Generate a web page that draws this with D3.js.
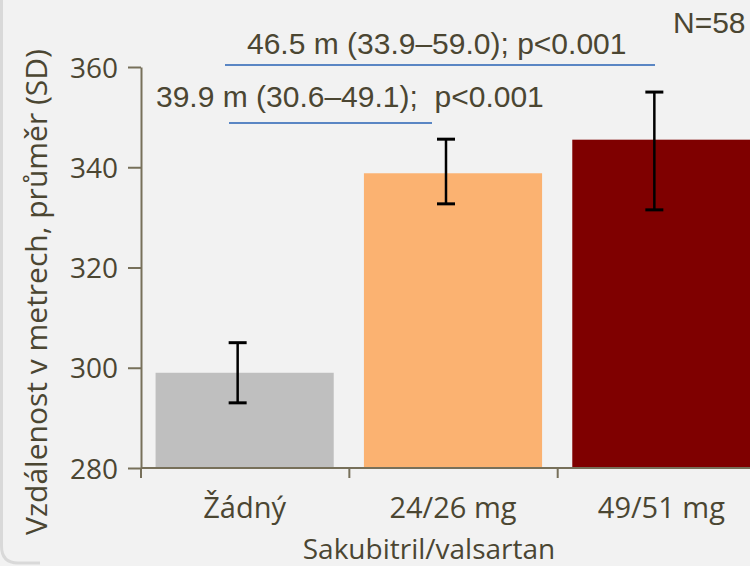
<!DOCTYPE html>
<html><head><meta charset="utf-8">
<script src="https://cdn.jsdelivr.net/npm/d3@7"></script>
<style>html,body{margin:0;padding:0;background:#f2f2f2;}svg{display:block;}</style>
</head><body>
<script>
const categories = ["Žádný", "24/26 mg", "49/51 mg"];
const means = [299.0, 338.8, 345.5];
const errLower = [293.0, 332.7, 331.5];
const errUpper = [305.0, 345.6, 355.0];
const barColors = ["#bfbfbf", "#fbb271", "#7f0000"];
const yTicks = [280, 300, 320, 340, 360];
const yLabel = "Vzdálenost v metrech, průměr (SD)";
const xLabel = "Sakubitril/valsartan";
const comparisons = [
  {text: "46.5 m (33.9–59.0); p<0.001", from: 0, to: 2},
  {text: "39.9 m (30.6–49.1);  p<0.001", from: 0, to: 1}
];
const nText = "N=58";

const W = 750, H = 566;
const svg = d3.select("body").append("svg").attr("width", W).attr("height", H);
svg.append("rect").attr("width", W).attr("height", H).attr("fill", "#f2f2f2");
// frame corner (bottom-left)
svg.append("path")
  .attr("d", "M1.5,-5 L1.5,546 Q1.5,563 18,563 L40,563")
  .attr("fill", "none").attr("stroke", "#d9d9d9").attr("stroke-width", 3);

const x = d3.scaleBand().domain(categories).range([141, 765]).paddingInner(0.145).paddingOuter(0.07);
const y = d3.scaleLinear().domain([280, 360]).range([468, 67]);

const textCol = "#4b4632";
const axisCol = "#77705a";
const sans = "Open Sans, Noto Sans, sans-serif";

// bars
svg.selectAll("rect.bar").data(categories).join("rect")
  .attr("class", "bar")
  .attr("x", d => x(d))
  .attr("width", x.bandwidth())
  .attr("y", (d, i) => y(means[i]))
  .attr("height", (d, i) => y(280) - y(means[i]))
  .attr("fill", (d, i) => barColors[i]);

// error bars
const ex = d => x(d) + x.bandwidth() / 2 - 7;
const eg = svg.append("g").attr("stroke", "#000").attr("stroke-width", 2.5);
categories.forEach((c, i) => {
  eg.append("line").attr("x1", ex(c)).attr("x2", ex(c)).attr("y1", y(errUpper[i])).attr("y2", y(errLower[i]));
  [errUpper[i], errLower[i]].forEach(v => {
    eg.append("line").attr("x1", ex(c) - 9).attr("x2", ex(c) + 9).attr("y1", y(v)).attr("y2", y(v)).attr("stroke-width", 3);
  });
});

// y axis
const yAxis = svg.append("g").attr("transform", "translate(141,0)")
  .call(d3.axisLeft(y).tickValues(yTicks).tickSize(13).tickPadding(10).tickSizeOuter(0));
yAxis.select(".domain").attr("stroke", axisCol).attr("stroke-width", 2);
yAxis.selectAll(".tick line").attr("stroke", axisCol).attr("stroke-width", 2);
yAxis.selectAll(".tick text").attr("fill", textCol).attr("font-family", sans).attr("font-size", 28).attr("dy", "0.36em");

// x axis
const xAxis = svg.append("g").attr("transform", "translate(0,468)")
  .call(d3.axisBottom(x).tickSize(0).tickPadding(29).tickSizeOuter(0));
xAxis.select(".domain").attr("stroke", axisCol).attr("stroke-width", 2).attr("d", "M141,0H750");
xAxis.selectAll(".tick text").attr("fill", textCol).attr("font-family", sans).attr("font-size", 29);
// category boundary ticks
const step = x.step();
[0, 1, 2].forEach(i => {
  const bx = x.range()[0] + i * step;
  svg.append("line").attr("x1", bx).attr("x2", bx).attr("y1", 468).attr("y2", 478)
    .attr("stroke", axisCol).attr("stroke-width", 2);
});

// axis titles
svg.append("text").attr("transform", "translate(47,292) rotate(-90)")
  .attr("text-anchor", "middle").attr("fill", textCol)
  .attr("font-family", sans).attr("font-size", 30).text(yLabel);
svg.append("text").attr("x", 429).attr("y", 559)
  .attr("text-anchor", "middle").attr("fill", textCol)
  .attr("font-family", sans).attr("font-size", 28).text(xLabel);

// comparison annotations
const annCfg = [
  {lineY: 65, x1: 225, x2: 655, tx: 247, ty: 54},
  {lineY: 123, x1: 229, x2: 432, tx: 156, ty: 107}
];
comparisons.forEach((c, i) => {
  const a = annCfg[i];
  svg.append("line").attr("x1", a.x1).attr("x2", a.x2).attr("y1", a.lineY).attr("y2", a.lineY)
    .attr("stroke", "#5a86c4").attr("stroke-width", 2);
  svg.append("text").attr("x", a.tx).attr("y", a.ty).attr("fill", textCol)
    .attr("font-family", "Liberation Sans, Arial, sans-serif").attr("font-size", 30)
    .attr("xml:space", "preserve").style("white-space", "pre").text(c.text);
});
svg.append("text").attr("x", 673).attr("y", 33).attr("fill", textCol)
  .attr("font-family", "Liberation Sans, Arial, sans-serif").attr("font-size", 30).text(nText);
</script>
</body></html>
